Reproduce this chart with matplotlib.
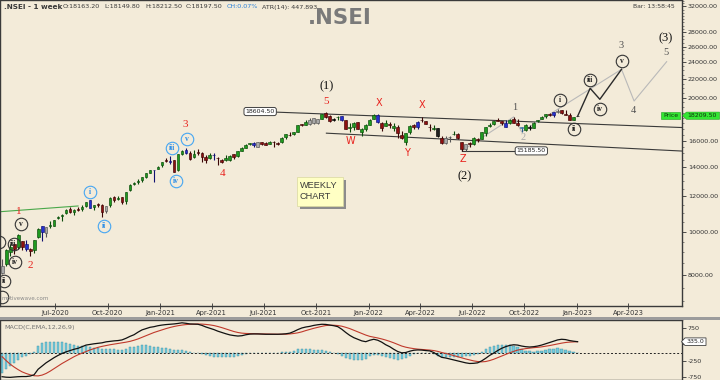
import numpy as np
import pandas as pd
import matplotlib
matplotlib.use("Agg")
import matplotlib.pyplot as plt
import matplotlib.dates as mdates
from matplotlib.patches import Rectangle, Polygon
from matplotlib.ticker import FixedLocator, NullFormatter, FuncFormatter

W, H = 720, 380
BG = "#f3ebd9"
plt.rcParams["font.family"] = ["DejaVu Sans"]

# ---------------- data ----------------
first_week = "2020-03-30"
opens = [8385, 8446, 9004, 9390, 9259, 9533, 9390, 9158, 9099, 9726,
         10326, 9919, 10318, 10311, 10723, 10851, 10999, 11225, 11058, 11271,
         11248, 11413, 11778, 11359, 11540, 11504, 11140, 11487, 11973, 11835,
         11937, 11697, 12399, 12829, 12906, 13062, 13264, 13571, 13741, 13815,
         14104, 14474, 14371, 14477, 13759, 14962, 15271, 15000, 14702, 15065,
         15048, 14737, 14628, 14837, 14644, 14449, 14449, 14482, 14928, 14756,
         15211, 15437, 15725, 15791, 15525, 15915, 15793, 15766, 15923, 15842,
         15874, 16282, 16518, 16592, 16765, 17401, 17363, 17443, 17962, 17532,
         17867, 18500, 18148, 17783, 18040, 18140, 17796, 17051, 17209, 17661,
         16774, 17000, 17388, 17913, 18235, 17575, 17302, 17456, 17076, 17192,
         16516, 15867, 16760, 17329, 17181, 17810, 17741, 17183, 17006, 17097,
         16227, 15845, 16290, 16578, 16570, 15877, 15334, 15800, 15710, 16126,
         16151, 16662, 17244, 17401, 17797, 17682, 17188, 17546, 17890, 17540,
         17157, 16900, 17094, 17122, 17736, 17910, 18211, 18376, 18246, 18552,
         18719, 18402, 18288, 17831, 18163.2]
highs = [8678, 9131, 9388, 9390, 9889, 9533, 9584, 9178, 9598, 10178,
         10328, 10273, 10553, 10631, 10847, 10934, 11225, 11341, 11256, 11361,
         11460, 11686, 11794, 11493, 11618, 11535, 11428, 11938, 12025, 12018,
         11943, 12280, 12770, 12963, 13145, 13281, 13579, 13773, 13777, 14049,
         14367, 14654, 14753, 14491, 14961, 15257, 15432, 15177, 15274, 15336,
         15084, 14879, 14984, 14985, 14697, 14527, 14890, 14863, 14967, 15190,
         15469, 15733, 15835, 15901, 15915, 15915, 15915, 15962, 15962, 15877,
         16350, 16544, 16701, 16722, 17340, 17436, 17793, 17947, 17976, 17941,
         18350, 18604, 18310, 18012, 18210, 18210, 17805, 17490, 17639, 17665,
         17119, 17400, 17944, 18350, 18344, 17600, 17794, 17639, 17490, 17352,
         16815, 16695, 17345, 17429, 17703, 18115, 17741, 17415, 17322, 17132,
         16404, 16400, 16415, 16794, 16610, 15886, 15707, 15927, 16275, 16248,
         16752, 17172, 17490, 17724, 17992, 17726, 17777, 17925, 18096, 17919,
         17196, 17428, 17348, 17607, 17838, 18176, 18362, 18442, 18529, 18888,
         18781, 18734, 18473, 18126, 18212.5]
lows = [8055, 8360, 8821, 8909, 9143, 9116, 9043, 8806, 8969, 9706,
        9544, 9728, 10194, 10277, 10676, 10562, 10960, 11026, 10882, 11111,
        11144, 11372, 11305, 11185, 11382, 10790, 11021, 11386, 11661, 11808,
        11535, 11557, 12367, 12730, 12790, 12963, 13214, 13516, 12962, 13801,
        13953, 14357, 14222, 13596, 13662, 14870, 14907, 14467, 14636, 14862,
        14350, 14264, 14545, 14459, 14151, 14273, 14416, 14417, 14591, 14724,
        15136, 15375, 15679, 15452, 15505, 15635, 15632, 15707, 15513, 15661,
        15834, 16162, 16395, 16495, 16765, 17254, 17339, 17327, 17452, 17452,
        17865, 18033, 17613, 17698, 17836, 17688, 16985, 16782, 16891, 16966,
        16410, 16834, 17383, 17880, 17578, 16837, 17244, 17119, 16810, 16203,
        16134, 15671, 16555, 17006, 17006, 17600, 17442, 16824, 16888, 16341,
        15735, 15740, 15903, 16444, 16172, 15183, 15191, 15511, 15661, 15858,
        16143, 16438, 17154, 17359, 17710, 17345, 17166, 17446, 17497, 17292,
        16748, 16855, 16950, 17098, 17637, 17900, 17969, 18209, 18133, 18492,
        18410, 18256, 17775, 17775, 18149.8]
closes = [8084, 9112, 9267, 9154, 9860, 9252, 9137, 9039, 9580, 10142,
          9973, 10244, 10383, 10607, 10768, 10902, 11194, 11073, 11214, 11178,
          11372, 11647, 11333, 11464, 11505, 11050, 11417, 11914, 11762, 11930,
          11642, 12263, 12720, 12859, 12969, 13258, 13514, 13761, 13749, 13982,
          14347, 14433, 14372, 13635, 14924, 15163, 14982, 14529, 14938, 15031,
          14744, 14507, 14867, 14835, 14617, 14341, 14631, 14823, 14678, 15175,
          15436, 15670, 15799, 15683, 15860, 15722, 15690, 15924, 15856, 15763,
          16238, 16529, 16451, 16705, 17324, 17369, 17585, 17853, 17532, 17895,
          18339, 18115, 17672, 17917, 18102, 17765, 17026, 17197, 17511, 16985,
          17004, 17354, 17813, 18256, 17617, 17102, 17516, 17375, 17276, 16658,
          16245, 16630, 17287, 17153, 17670, 17784, 17476, 17172, 17103, 16411,
          15782, 16266, 16352, 16584, 16202, 15294, 15699, 15752, 16221, 16049,
          16719, 17158, 17398, 17698, 17758, 17559, 17539, 17833, 17531, 17327,
          17094, 17315, 17186, 17576, 17787, 18117, 18350, 18308, 18512, 18697,
          18497, 18269, 17807, 18105, 18197.5]

macd_vals = [-750, -765, -770, -760, -750, -745, -745, -730, -690, -520,
             -420, -320, -240, -160, -90, -30, 20, 60, 100, 130,
             180, 230, 250, 270, 285, 300, 330, 345, 360, 370,
             390, 440, 500, 550, 630, 700, 740, 780, 800, 830,
             850, 865, 875, 885, 900, 920, 905, 885, 880, 875,
             840, 790, 750, 710, 660, 620, 580, 545, 525, 510,
             520, 550, 570, 575, 575, 570, 565, 565, 565, 565,
             570, 580, 600, 650, 710, 760, 790, 810, 840, 860,
             875, 870, 850, 830, 800, 720, 620, 530, 460, 410,
             360, 335, 380, 410, 380, 320, 240, 180, 100, 30,
             -10, 0, 40, 70, 80, 75, 60, 50, 0, -80,
             -150, -170, -200, -230, -260, -290, -320, -340, -335, -320,
             -260, -180, -90, -20, 60, 130, 180, 220, 240, 230,
             200, 180, 170, 180, 200, 230, 270, 310, 350, 390,
             410, 400, 370, 350, 335]
signal_vals = [-130, -250, -360, -450, -530, -600, -650, -690, -720, -725,
               -700, -650, -580, -500, -420, -340, -270, -200, -130, -70,
               -20, 30, 80, 120, 160, 190, 215, 240, 260, 280,
               300, 320, 345, 380, 420, 470, 520, 570, 620, 660,
               700, 740, 775, 805, 830, 850, 865, 875, 880, 883,
               880, 870, 855, 835, 805, 770, 730, 690, 650, 620,
               600, 590, 585, 580, 578, 575, 572, 570, 568, 566,
               566, 568, 575, 590, 610, 640, 680, 715, 750, 780,
               810, 835, 845, 845, 835, 815, 780, 740, 690, 640,
               590, 540, 500, 475, 450, 420, 385, 345, 300, 250,
               200, 165, 140, 120, 105, 95, 85, 75, 60, 35,
               0, -30, -60, -95, -130, -165, -200, -230, -260, -280,
               -290, -280, -250, -210, -160, -110, -60, -10, 35, 75,
               100, 120, 135, 150, 160, 175, 195, 215, 240, 265,
               290, 310, 322, 330, 335]

price_ticks = [8000, 10000, 12000, 14000, 16000, 20000, 22000, 24000, 26000, 28000, 32000]
macd_ticks = [750, 250, -250, -750]
macd_tick_labels = ["750", "", "-250", "-750"]
date_ticks = ["2020-07-01", "2020-10-01", "2021-01-01", "2021-04-01", "2021-07-01",
              "2021-10-01", "2022-01-01", "2022-04-01", "2022-07-01", "2022-10-01",
              "2023-01-01", "2023-04-01"]
last_price = 18209.50
macd_last = 335.0

# candle colour overrides (index -> colour key)
blue_idx = [6, 10, 22, 38, 42, 46, 53, 63, 85, 94, 104, 126, 138]
lblue_idx = [130]
gray_idx = [0, 11, 26, 64, 77, 78, 79, 111, 112, 116, 139]
black_idx = [83, 109, 132, 144]

# wave labels
red_letters = [("X", "2022-01-20", 19412), ("X", "2022-04-05", 19242),
               ("W", "2021-11-30", 16003), ("Y", "2022-03-09", 14996),
               ("Z", "2022-06-16", 14538)]
red_digits = [("5", "2021-10-19", 19573), ("3", "2021-02-13", 17444),
              ("4", "2021-04-20", 13524), ("1", "2020-04-29", 11092),
              ("2", "2020-05-18", 8381)]
paren_labels = [("(1)", "2021-10-20", 21225), ("(2)", "2022-06-19", 13338),
                ("(3)", "2023-06-05", 27192)]
gray_labels = [("1", "2022-09-14", 19044, "#505050"), ("2", "2022-09-28", 16229, "#a8a8a8"),
               ("3", "2023-03-20", 26096, "#505050"), ("4", "2023-04-10", 18751, "#505050"),
               ("5", "2023-06-05", 25257, "#505050")]
circ_black = [("i", "2022-12-02", 19745), ("ii", "2022-12-27", 16974),
              ("iii", "2023-01-24", 21895), ("iv", "2023-02-10", 18820),
              ("v", "2023-03-20", 24150), ("", "2020-03-25", 9486),
              ("ii", "2020-04-03", 7768), ("iii", "2020-04-19", 9374),
              ("iv", "2020-04-22", 8542), ("v", "2020-05-02", 10394),
              ("", "2020-03-30", 7141)]
circ_blue = [("i", "2020-08-31", 12299), ("ii", "2020-09-25", 10319),
             ("iii", "2021-01-21", 15435), ("iv", "2021-01-29", 12997),
             ("v", "2021-02-16", 16144)]
proj_light_dates = ["2022-06-13", "2022-09-12", "2022-09-26", "2023-03-20", "2023-04-11", "2023-06-07"]
proj_light_vals = [15183, 18096, 16748, 23137, 19641, 24064]
proj_dark_dates = ["2023-01-02", "2023-01-24", "2023-02-10", "2023-03-20"]
proj_dark_vals = [18150, 20975, 19816, 23137]
upper_dates = ["2021-06-25", "2023-07-03"]
upper_vals = [18604.5, 17131]
lower_dates = ["2021-10-19", "2023-07-03"]
lower_vals = [16638, 15173]
green_dates = ["2020-03-09", "2020-08-10"]
green_vals = [11050, 11425]
hi_level = 18604.50
lo_level = 15185.50

# ---------------- helpers ----------------
def d(s):
    return mdates.date2num(pd.Timestamp(s).to_pydatetime())

def fx(px):
    return px / W

def fy(py):
    return 1 - py / H

fig = plt.figure(figsize=(7.2, 3.8), dpi=100, facecolor=BG)
ax = fig.add_axes([0, fy(306), 682 / W, 306 / H], facecolor=BG)
axm = fig.add_axes([0, 0, 682 / W, 60 / H], facecolor=BG)

base = d("2023-01-01")
xlo, xhi = base - 1010.7, base + 183.9

dates = pd.date_range(first_week, periods=len(closes), freq="7D")
x = mdates.date2num(dates.to_pydatetime())
o = np.array(opens); h = np.array(highs); l = np.array(lows); c = np.array(closes)

# candle colours
body, edge = [], []
for i in range(len(c)):
    if i in blue_idx:
        b, e = "#2430d0", "#101070"
    elif i in lblue_idx:
        b, e = "#6ab8f0", "#2a6090"
    elif i in gray_idx:
        b, e = "#a9a9a9", "#555555"
    elif i in black_idx:
        b, e = "#202020", "#000000"
    elif c[i] >= o[i]:
        b, e = "#1f9a1f", "#0b4a0b"
    else:
        b, e = "#8e1010", "#3a0505"
    body.append(b); edge.append(e)

ax.vlines(x, l, h, colors=edge, linewidth=0.8, zorder=3)
bh = np.maximum(np.abs(c - o), c * 0.0012)
ax.bar(x, bh, bottom=np.minimum(o, c), width=5.0, color=body, edgecolor=edge,
       linewidth=0.45, zorder=4)

ax.set_yscale("log")
ax.set_xlim(xlo, xhi)
ax.set_ylim(6817, 33089)

# channel / level lines
ax.plot([d(s) for s in upper_dates], upper_vals, color="#3a3a3a", lw=0.8, zorder=2)
ax.plot([d(s) for s in lower_dates], lower_vals, color="#3a3a3a", lw=0.8, zorder=2)
ax.plot([d("2022-06-13"), d("2022-10-13")], [lo_level, lo_level], color="#3a3a3a", lw=0.8, zorder=2)
ax.plot([d(s) for s in green_dates], green_vals, color="#4aa84a", lw=0.8, zorder=2)
ax.plot([d(s) for s in proj_light_dates], proj_light_vals, color="#b9b9b9", lw=0.8, zorder=2)
ax.plot([d(s) for s in proj_dark_dates], proj_dark_vals, color="#2a2a2a", lw=1.0, zorder=5)

box = dict(boxstyle="round,pad=0.25,rounding_size=0.35", fc="white", ec="#404040", lw=0.7)
ax.text(d("2021-06-25"), hi_level, f"{hi_level:.2f}", fontsize=4.5, ha="center", va="center",
        color="#222", bbox=box, zorder=6)
ax.text(d("2022-10-13"), lo_level, f"{lo_level:.2f}", fontsize=4.5, ha="center", va="center",
        color="#222", bbox=box, zorder=6)

# wave labels
for t, ds, v in red_letters:
    ax.text(d(ds), v, t, color="#e8231e", fontsize=7, ha="center", va="center",
            family="DejaVu Sans", zorder=7)
for t, ds, v in red_digits:
    ax.text(d(ds), v, t, color="#e8231e", fontsize=8, ha="center", va="center",
            family="Liberation Serif", zorder=7)
for t, ds, v in paren_labels:
    ax.text(d(ds), v, t, color="#111111", fontsize=9, ha="center", va="center",
            family="Liberation Serif", zorder=7)
for t, ds, v, col in gray_labels:
    ax.text(d(ds), v, t, color=col, fontsize=7.5, ha="center", va="center",
            family="Liberation Serif", zorder=7)
for t, ds, v in circ_black:
    ax.plot(d(ds), v, marker="o", ms=9, mfc="none", mec="#333333", mew=0.8, zorder=7)
    if t:
        ax.text(d(ds), v, t, color="#222222", fontsize=5.5, ha="center", va="center",
                family="Liberation Serif", weight="bold", zorder=8)
for t, ds, v in circ_blue:
    ax.plot(d(ds), v, marker="o", ms=9, mfc="none", mec="#45a6f2", mew=0.8, zorder=7)
    ax.text(d(ds), v, t, color="#2f8fe6", fontsize=5.5, ha="center", va="center",
            family="Liberation Serif", weight="bold", zorder=8)

# axes styling main
for sp in ax.spines.values():
    sp.set_color("#3a3a3a"); sp.set_linewidth(1.0)
ax.yaxis.tick_right()
ax.yaxis.set_major_locator(FixedLocator(price_ticks))
ax.yaxis.set_major_formatter(FuncFormatter(lambda v, p: f"{v:.2f}"))
ax.yaxis.set_minor_locator(FixedLocator(list(range(7000, 33001, 500))))
ax.yaxis.set_minor_formatter(NullFormatter())
ax.tick_params(axis="y", which="major", direction="out", length=3, width=0.6,
               labelsize=4.6, pad=1.2, colors="#333333")
ax.tick_params(axis="y", which="minor", direction="out", length=1.5, width=0.4, colors="#333333")
ax.set_xticks([d(s) for s in date_ticks])
ax.set_xticklabels([pd.Timestamp(s).strftime("%b-%Y") for s in date_ticks])
ax.tick_params(axis="x", direction="inout", length=4, width=0.6, labelsize=4.9,
               pad=1.0, colors="#333333")

# MACD panel
m = np.array(macd_vals); s = np.array(signal_vals)
hist = m - s
axm.bar(x, hist, width=4.0, color="#74cadb", edgecolor="#3b8ea3", linewidth=0.3, zorder=2)
axm.axhline(0, color="#222222", lw=0.7, ls=(0, (2, 2)), zorder=3)
axm.plot(x, s, color="#c0392b", lw=0.8, zorder=4)
axm.plot(x, m, color="#111111", lw=0.9, zorder=5)
axm.set_xlim(xlo, xhi)
axm.set_ylim(-852, 1007)
for sp in axm.spines.values():
    sp.set_color("#3a3a3a"); sp.set_linewidth(1.0)
axm.yaxis.tick_right()
axm.yaxis.set_major_locator(FixedLocator(macd_ticks))
axm.set_yticklabels(macd_tick_labels)
axm.tick_params(axis="y", direction="out", length=3, width=0.6, labelsize=4.6,
                pad=1.2, colors="#333333")
axm.tick_params(axis="x", which="both", bottom=False, labelbottom=False)
axm.text(0.007, 0.88, "MACD(C,EMA,12,26,9)", transform=axm.transAxes, fontsize=4.6,
         color="#707070", va="center", ha="left")

# separator band
fig.add_artist(Rectangle((0, fy(320)), 1, 3 / H, transform=fig.transFigure,
                         fc="#9c9c9c", ec="none"))

# header texts
fig.text(fx(4), fy(7), ".NSEI - 1 week", fontsize=5.2, weight="bold", color="#3a3a3a",
         va="center", ha="left")
for px, t in [(63, "O:18163.20"), (104, "L:18149.80"), (145, "H:18212.50"), (186, "C:18197.50")]:
    fig.text(fx(px), fy(7), t, fontsize=4.6, color="#3a3a3a", va="center", ha="left")
fig.text(fx(227), fy(7), "CH:0.07%", fontsize=4.6, color="#2a80d8", va="center", ha="left")
fig.text(fx(262), fy(7), "ATR(14): 447.893", fontsize=4.6, color="#3a3a3a", va="center", ha="left")
fig.text(fx(633), fy(6), "Bar: 13:58:45", fontsize=4.4, color="#3a3a3a", va="center", ha="left")
fig.text(fx(340), fy(18), ".NSEI", fontsize=15.4, weight="bold", color="#7a7a7a",
         va="center", ha="center")
fig.text(fx(2), fy(298), "motivewave.com", fontsize=4.0, color="#8a8a8a", va="center", ha="left")

# WEEKLY CHART note
fig.add_artist(Rectangle((fx(300), fy(209)), 46 / W, 29 / H, transform=fig.transFigure,
                         fc="#8c8c8c", ec="none"))
fig.add_artist(Rectangle((fx(297), fy(206)), 46 / W, 29 / H, transform=fig.transFigure,
                         fc="#ffffc4", ec="#d8d8a0", lw=0.5))
fig.text(fx(299.5), fy(185.5), "WEEKLY", fontsize=6.6, color="#3a3a3a", va="center",
         ha="left", family="Liberation Sans")
fig.text(fx(299.5), fy(196.5), "CHART", fontsize=6.6, color="#3a3a3a", va="center",
         ha="left", family="Liberation Sans")

# current price boxes
yc = ax.transData.transform((x[-1], last_price))[1]
GREEN = "#33e633"
fig.add_artist(Rectangle((fx(661), (yc - 3.6) / H), 19 / W, 7.2 / H, transform=fig.transFigure,
                         fc=GREEN, ec="#20a020", lw=0.4))
fig.text(fx(670.5), yc / H, "Price", fontsize=4.4, color="#123012", va="center", ha="center")
poly = [(682.5, yc), (686.5, yc + 3.6), (719.5, yc + 3.6), (719.5, yc - 3.6), (686.5, yc - 3.6)]
fig.add_artist(Polygon([(px / W, py / H) for px, py in poly], closed=True,
                       transform=fig.transFigure, fc=GREEN, ec="#20a020", lw=0.4))
fig.text(fx(702.5), yc / H, f"{last_price:.2f}", fontsize=4.5, color="#123012",
         va="center", ha="center")

ym = axm.transData.transform((x[-1], macd_last))[1]
poly2 = [(681.5, ym), (685, ym + 3.8), (706, ym + 3.8), (706, ym - 3.8), (685, ym - 3.8)]
fig.add_artist(Polygon([(px / W, py / H) for px, py in poly2], closed=True,
                       transform=fig.transFigure, fc="white", ec="#404040", lw=0.6))
fig.text(fx(695.5), ym / H, f"{macd_last:.1f}", fontsize=4.5, color="#222222",
         va="center", ha="center")

fig.savefig("out.png", dpi=100, facecolor=BG)
